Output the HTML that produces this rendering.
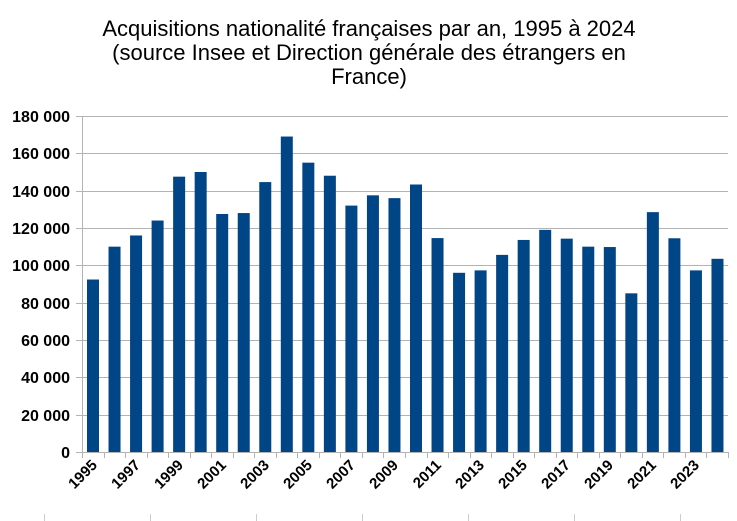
<!DOCTYPE html>
<html><head><meta charset="utf-8"><style>
body{margin:0;background:#fff;}
svg{display:block;font-family:"Liberation Sans",sans-serif;}
</style></head><body>
<svg id="s" width="737" height="521" xmlns="http://www.w3.org/2000/svg">
<rect width="737" height="521" fill="#fff"/>
<g font-size="22" text-anchor="middle" fill="#000">
<text x="369" y="36">Acquisitions nationalité françaises par an, 1995 à 2024</text>
<text x="369" y="60">(source Insee et Direction générale des étrangers en</text>
<text x="369" y="84">France)</text>
</g>
<g id="grid" stroke="#b3b3b3" stroke-width="1"></g>
<g id="bars" fill="#004586"></g>
<g font-size="16" font-weight="bold" text-anchor="end">
<text x="70" y="122">180 000</text>
<text x="70" y="159">160 000</text>
<text x="70" y="197">140 000</text>
<text x="70" y="234">120 000</text>
<text x="70" y="271">100 000</text>
<text x="70" y="309">80 000</text>
<text x="70" y="346">60 000</text>
<text x="70" y="383">40 000</text>
<text x="70" y="421">20 000</text>
<text x="70" y="458">0</text>
</g>
<g font-size="15" font-weight="bold" text-anchor="end">
<text transform="translate(98,466) rotate(-45)">1995</text>
<text transform="translate(141,466) rotate(-45)">1997</text>
<text transform="translate(184,466) rotate(-45)">1999</text>
<text transform="translate(227,466) rotate(-45)">2001</text>
<text transform="translate(270,466) rotate(-45)">2003</text>
<text transform="translate(313,466) rotate(-45)">2005</text>
<text transform="translate(356,466) rotate(-45)">2007</text>
<text transform="translate(399,466) rotate(-45)">2009</text>
<text transform="translate(442,466) rotate(-45)">2011</text>
<text transform="translate(485,466) rotate(-45)">2013</text>
<text transform="translate(528,466) rotate(-45)">2015</text>
<text transform="translate(571,466) rotate(-45)">2017</text>
<text transform="translate(614,466) rotate(-45)">2019</text>
<text transform="translate(657,466) rotate(-45)">2021</text>
<text transform="translate(700,466) rotate(-45)">2023</text>
</g>
<g stroke="#ccc"><line x1="44.5" y1="514" x2="44.5" y2="521"/><line x1="150.5" y1="514" x2="150.5" y2="521"/><line x1="256.5" y1="514" x2="256.5" y2="521"/><line x1="362.5" y1="514" x2="362.5" y2="521"/><line x1="468.5" y1="514" x2="468.5" y2="521"/><line x1="574.5" y1="514" x2="574.5" y2="521"/><line x1="680.5" y1="514" x2="680.5" y2="521"/></g>
</svg>
<script>
var ns="http://www.w3.org/2000/svg";
function el(t,a,p){var e=document.createElementNS(ns,t);for(var k in a)e.setAttribute(k,a[k]);p.appendChild(e);}
var g=document.getElementById("grid"),b=document.getElementById("bars");
var L=82,R=728,T=116,B=452,slot=(R-L)/30;
for(var i=0;i<10;i++){var y=Math.round(T+i*(B-T)/9)+0.5;el("line",{x1:L-6,x2:R,y1:y,y2:y},g);}
el("line",{x1:L+0.5,x2:L+0.5,y1:T,y2:B+6},g);
el("line",{x1:L-6,x2:R,y1:B+0.5,y2:B+0.5},g);
for(var i=0;i<=30;i++){var x=Math.round(L+i*slot)+0.5;el("line",{x1:x,x2:x,y1:B,y2:B+6},g);}
var v=[92.4,110,116,124,147.5,150,127.5,128,144.6,169,155,148,132,137.5,136,143.3,114.6,96,97.3,105.6,113.6,119,114.3,110,109.8,85,128.5,114.5,97.3,103.5];
for(var i=0;i<30;i++){var h=v[i]*(B-T)/180;el("rect",{x:L+5+i*slot,y:B-h,width:12,height:h},b);}
</script>
</body></html>
